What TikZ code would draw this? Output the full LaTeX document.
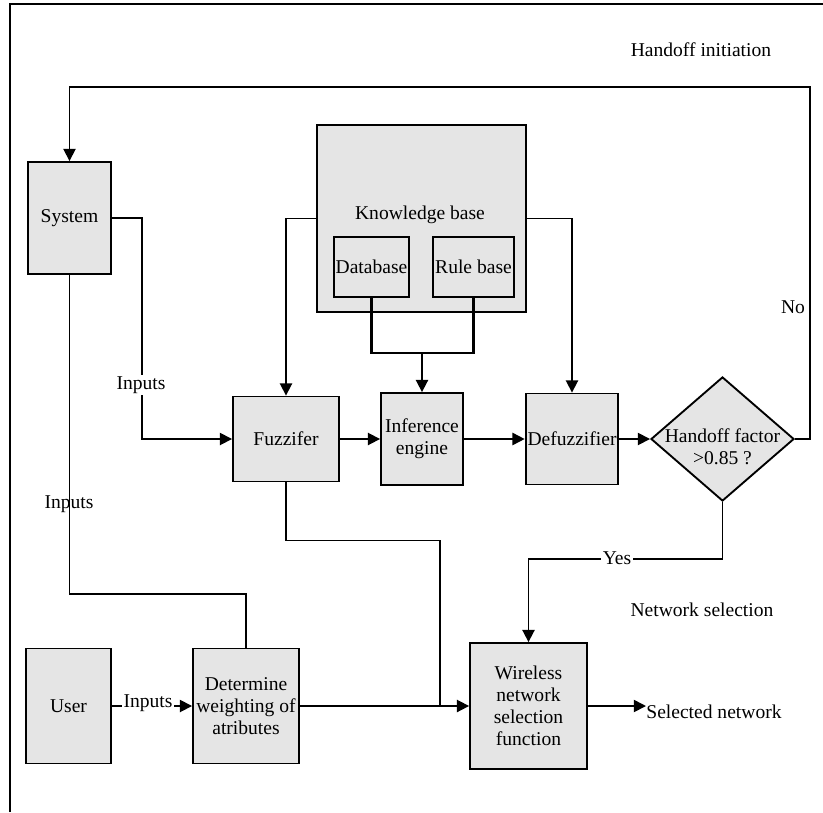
\documentclass[tikz,border=0pt]{standalone}
\usepackage{fontspec}
\setmainfont{Liberation Serif}
\usetikzlibrary{shapes.geometric, arrows.meta, positioning}

\begin{document}
\begin{tikzpicture}[>={Triangle[length=6.5pt, width=6.5pt]}, x=0.532pt, y=-0.532pt,
    font=\fontsize{10.4pt}{11.8pt}\selectfont,
    box/.style={draw, line width=1pt, fill=black!10, align=center, inner sep=1pt},
    link/.style={line width=0.9pt},
    lbl/.style={inner sep=1pt}]
    \useasboundingbox (0,0) rectangle (823,812);

    % Outer frame
    \draw[line width=1.3pt] (10,812) -- (10,4) -- (823,4);

    % Fuzzy controller blocks
    \node[box, minimum width=44.2pt, minimum height=59.6pt] (sys) at (69.5,218) {System};
    \node[box, minimum width=111.2pt, minimum height=99.5pt] (kb) at (421.5,218.5) {};
    \node[lbl] (kbtext) at (420,215) {Knowledge base};
    \node[box, minimum width=39.9pt, minimum height=31.9pt] (db) at (371.5,267) {Database};
    \node[box, minimum width=42pt, minimum height=31.9pt] (rb) at (473.5,267) {Rule base};
    \node[box, minimum width=56.4pt, minimum height=45.2pt] (fuzz) at (286,439) {Fuzzifer};
    \node[box, minimum width=43.6pt, minimum height=48.9pt] (inf) at (422,439) {Inference\\engine};
    \node[box, minimum width=46.8pt, minimum height=48.4pt] (defz) at (572,439) {Defuzzifier};
    \node[draw, diamond, line width=1pt, fill=black!10, inner sep=0pt,
        minimum width=76.1pt, minimum height=66pt] (dec) at (722.5,439) {};
    \node[lbl, align=center] (dectext) at (722.5,447) {Handoff factor\\>0.85 ?};

    % Network selection blocks
    \node[box, minimum width=45.2pt, minimum height=61.2pt] (user) at (68.5,706) {User};
    \node[box, minimum width=56.4pt, minimum height=61.2pt] (det) at (246,706) {Determine\\weighting of\\atributes};
    \node[box, minimum width=62.2pt, minimum height=67pt] (wl) at (528.5,706) {Wireless\\network\\selection\\function};
    \node[lbl, anchor=west, inner sep=0pt] (sel) at (646,712) {Selected network};

    % Free labels
    \node[lbl] (hoinit) at (701,50) {Handoff initiation};
    \node[lbl] (netsel) at (702,610) {Network selection};
    \node[lbl] (no) at (793,307) {No};
    \node[lbl] (in2) at (69,504) {Inputs};

    % Connectors of the fuzzy part
    \coordinate (fbcorner) at (810,87);
    \coordinate (kbjoin) at (422,353);
    \draw[link, ->] (dec.east) -| (fbcorner) -| (sys.north);
    \draw[link, ->] (sys.east) -- ++(30,0) |- (fuzz.west);
    \draw[link, ->] (kb.west) -| (fuzz.north);
    \draw[link, ->] (kb.east) -| (defz.north);
    \draw[line width=1.5pt] (db.south) |- (kbjoin) -| (rb.south);
    \draw[link, ->] (kbjoin) -- (inf.north);
    \draw[link, ->] (fuzz) -- (inf);
    \draw[link, ->] (inf) -- (defz);
    \draw[link, ->] (defz) -- (dec);

    % Connectors of the selection part
    \coordinate (merge) at (440,706);
    \draw[link] (sys.south) -- ++(0,319) -| (det.north);
    \draw[link, ->] (user) -- (det);
    \draw[link, ->] (det) -- (wl);
    \draw[link] (fuzz.south) -- ++(0,58) -| (merge);
    \draw[link, ->] (dec.south) -- ++(0,57) -| (wl.north);
    \draw[link, ->] (wl.east) -- (wl.east -| sel.west);

    % Labels that break the lines
    \node[lbl, fill=white] (in1) at (141,385) {Inputs};
    \node[lbl, fill=white] (in3) at (148,703) {Inputs};
    \node[lbl, fill=white] (yes) at (617,558) {Yes};
\end{tikzpicture}
\end{document}
